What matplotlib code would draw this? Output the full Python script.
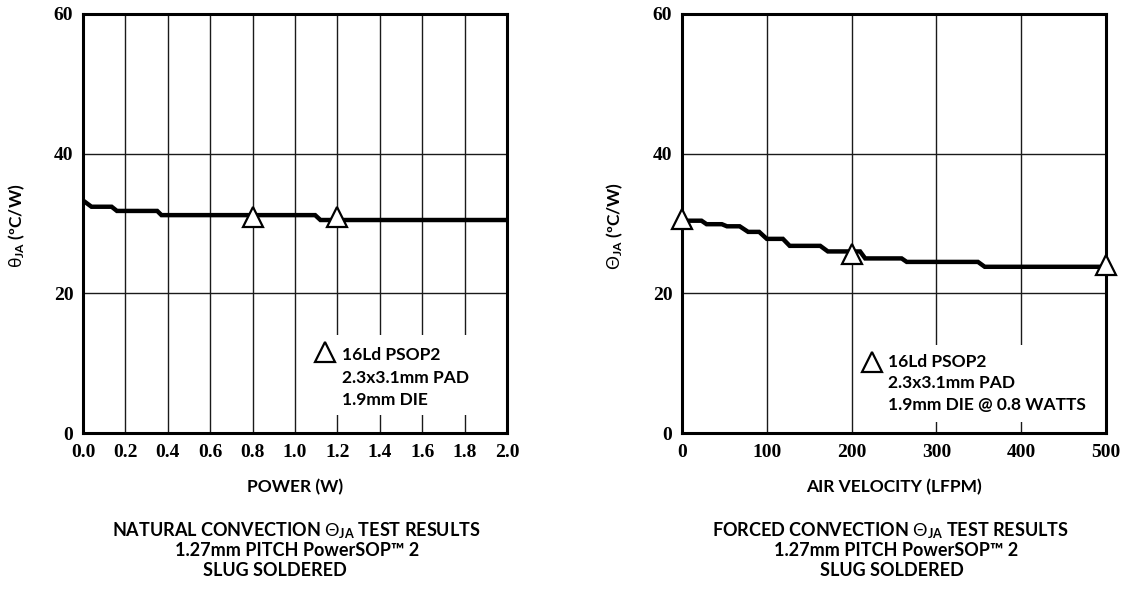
import matplotlib
matplotlib.use("Agg")
import matplotlib.pyplot as plt
from matplotlib.patches import Rectangle

plt.rcParams['mathtext.fontset'] = 'custom'
plt.rcParams['mathtext.rm'] = 'Lato'
plt.rcParams['mathtext.bf'] = 'Lato:bold'
plt.rcParams['mathtext.it'] = 'Lato'

# ---- data ----
power_x = [0.0, 0.04, 0.135, 0.16, 0.35, 0.37, 1.095, 1.12, 2.0]
power_y = [33.3, 32.4, 32.4, 31.8, 31.8, 31.2, 31.2, 30.5, 30.5]
power_mark_x = [0.8, 1.2]
power_mark_y = [30.9, 30.9]

air_x = [0, 23, 29, 47, 53, 68, 78, 91, 100, 119, 127, 163, 172, 210, 216, 259, 265, 349, 357, 500]
air_y = [30.4, 30.4, 29.9, 29.9, 29.6, 29.6, 28.8, 28.8, 27.8, 27.8, 26.8, 26.8, 26.0, 26.0,
         25.0, 25.0, 24.5, 24.5, 23.8, 23.8]
air_mark_x = [0, 200, 500]
air_mark_y = [30.7, 25.7, 24.0]

power_ticks = [0.0, 0.2, 0.4, 0.6, 0.8, 1.0, 1.2, 1.4, 1.6, 1.8, 2.0]
air_ticks = [0, 100, 200, 300, 400, 500]
y_ticks = [0, 20, 40, 60]

left_legend = ["16Ld PSOP2", "2.3x3.1mm PAD", "1.9mm DIE"]
right_legend = ["16Ld PSOP2", "2.3x3.1mm PAD", "1.9mm DIE @ 0.8 WATTS"]

W, H = 1125, 596
fig = plt.figure(figsize=(W / 100, H / 100), dpi=100)

TICKFONT = dict(family='Liberation Serif', weight='bold', size=14)
LABFONT = dict(family='Lato', weight='bold', size=12.5)


def setup(ax, xticks, xfmt, xlim):
    ax.set_xlim(*xlim)
    ax.set_ylim(0, 60)
    ax.set_xticks(xticks)
    ax.set_yticks(y_ticks)
    ax.set_xticklabels([xfmt(v) for v in xticks], fontdict=TICKFONT)
    ax.set_yticklabels([str(v) for v in y_ticks], fontdict=TICKFONT)
    ax.tick_params(length=0, pad=8)
    ax.tick_params(axis='y', pad=7)
    ax.grid(True, color='#1a1a1a', linewidth=1.0)
    ax.set_axisbelow(True)
    for s in ax.spines.values():
        s.set_linewidth(2.2)
        s.set_color('black')


def legend(ax, box, mark, tx, ty, lines):
    ax.add_patch(Rectangle((box[0], box[1]), box[2] - box[0], box[3] - box[1],
                           facecolor='white', edgecolor='none', zorder=1))
    ax.plot([mark[0]], [mark[1]], marker='^', markersize=14, markerfacecolor='white',
            markeredgecolor='black', markeredgewidth=1.6, linestyle='none', zorder=3)
    for t, yy in zip(lines, ty):
        ax.text(tx, yy, t, ha='left', va='center', fontfamily='Lato', fontweight='bold',
                fontsize=12.5, zorder=3)


# ---- left ----
axL = fig.add_axes([83 / W, 1 - 433 / H, 424 / W, 419 / H])
setup(axL, power_ticks, lambda v: f"{v:.1f}", (0, 2.0))
axL.plot(power_x, power_y, color='black', linewidth=3.2, solid_joinstyle='miter', zorder=2)
axL.plot(power_mark_x, power_mark_y, marker='^', markersize=14, markerfacecolor='white',
         markeredgecolor='black', markeredgewidth=1.6, linestyle='none', zorder=3, clip_on=False)
legend(axL, (1.05, 2.6, 1.95, 14.0), (1.14, 11.6), 1.224, [11.2, 7.9, 4.7], left_legend)
axL.text(0.5, -0.129, "POWER (W)", transform=axL.transAxes, ha='center', va='center', **LABFONT)
fig.text(17 / W, 1 - 226 / H, r"$\theta_{\mathbf{JA}}$ (ºC/W)", rotation=90, ha='center',
         va='center', fontfamily='Lato', fontweight='bold', fontsize=12.5)

# ---- right ----
axR = fig.add_axes([682 / W, 1 - 433 / H, 424 / W, 419 / H])
setup(axR, air_ticks, lambda v: f"{v}", (0, 500))
axR.plot(air_x, air_y, color='black', linewidth=3.2, solid_joinstyle='miter', zorder=2)
axR.plot(air_mark_x, air_mark_y, marker='^', markersize=14, markerfacecolor='white',
         markeredgecolor='black', markeredgewidth=1.6, linestyle='none', zorder=3, clip_on=False)
legend(axR, (205, 1.6, 495, 12.6), (224, 10.1), 243, [10.2, 7.2, 4.0], right_legend)
axR.text(0.5, -0.129, "AIR VELOCITY (LFPM)", transform=axR.transAxes, ha='center', va='center', **LABFONT)
fig.text(615 / W, 1 - 226 / H, r"$\Theta_{\mathbf{JA}}$ (ºC/W)", rotation=90, ha='center',
         va='center', fontfamily='Lato', fontweight='bold', fontsize=12.5)

# ---- captions ----
TF = dict(fontfamily='Lato', fontweight='bold', fontsize=13, ha='center', va='center')
fig.text(296 / W, 1 - 531 / H, r"NATURAL CONVECTION $\Theta_{\mathbf{JA}}$ TEST RESULTS", **TF)
fig.text(297 / W, 1 - 550 / H, "1.27mm PITCH PowerSOP™ 2", **TF)
fig.text(275 / W, 1 - 571 / H, "SLUG SOLDERED", **TF)
fig.text(890 / W, 1 - 531 / H, r"FORCED CONVECTION $\Theta_{\mathbf{JA}}$ TEST RESULTS", **TF)
fig.text(896 / W, 1 - 550 / H, "1.27mm PITCH PowerSOP™ 2", **TF)
fig.text(892 / W, 1 - 571 / H, "SLUG SOLDERED", **TF)

fig.savefig("out.png", dpi=100)
